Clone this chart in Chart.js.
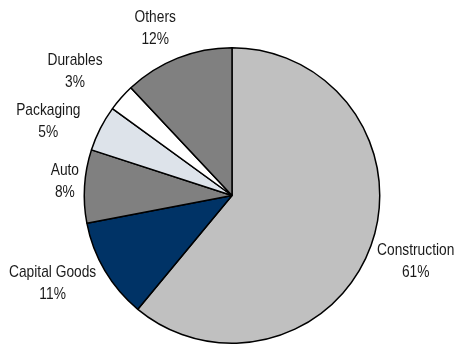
<!DOCTYPE html>
<html>
<head>
<meta charset="utf-8">
<script src="https://cdn.jsdelivr.net/npm/chart.js@4"></script>
<style>
  html, body { margin: 0; padding: 0; background: #fff; }
  #wrap { width: 456px; height: 347px; }
</style>
</head>
<body>
<div id="wrap"><canvas id="pieChart" width="456" height="347"></canvas></div>
<script>
// --- data ---
const sectors = ['Construction', 'Capital Goods', 'Auto', 'Packaging', 'Durables', 'Others'];
const shares = [61, 11, 8, 5, 3, 12];
const sliceColors = ['#c0c0c0', '#003366', '#808080', '#dde3ea', '#ffffff', '#808080'];

// label placement: extra distance past the rim, and a small angle nudge (deg)
const labelGap = [47.5, 52, 20, 50.5, 52.5, 36];
const labelTurn = [0, 4.5, 1.3, -4.9, -3, -3.1];

const LABEL_FONT = '17px "Liberation Sans", Arial, sans-serif';
const NARROW = 0.81; // squeeze to look like Arial Narrow
const LINE_H = 22;

// draws the "name / xx%" labels outside each slice
const outsideLabels = {
    id: 'outsideLabels',
    afterDatasetsDraw(chart) {
        const ctx = chart.ctx;
        const arcs = chart.getDatasetMeta(0).data;
        ctx.save();
        ctx.font = LABEL_FONT;
        ctx.fillStyle = '#1a1a1a';
        ctx.textAlign = 'center';
        ctx.textBaseline = 'middle';
        arcs.forEach((arc, i) => {
            const p = arc.getProps(['x', 'y', 'startAngle', 'endAngle', 'outerRadius'], true);
            const mid = (p.startAngle + p.endAngle) / 2 + labelTurn[i] * Math.PI / 180;
            const dist = p.outerRadius + labelGap[i];
            const cx = p.x + Math.cos(mid) * dist;
            const cy = p.y + Math.sin(mid) * dist;
            ctx.save();
            ctx.translate(cx, cy);
            ctx.scale(NARROW, 1);
            ctx.fillText(sectors[i], 0, -LINE_H / 2);
            ctx.fillText(shares[i] + '%', 0, LINE_H / 2);
            ctx.restore();
        });
        ctx.restore();
    }
};

new Chart(document.getElementById('pieChart'), {
    type: 'pie',
    data: {
        labels: sectors,
        datasets: [{
            data: shares,
            backgroundColor: sliceColors,
            borderColor: '#000',
            borderWidth: 1.5,
            hoverOffset: 0
        }]
    },
    options: {
        responsive: false,
        animation: false,
        events: [],
        layout: { padding: { top: 47, bottom: 3, left: 8, right: 0 } },
        plugins: {
            legend: { display: false },
            tooltip: { enabled: false }
        }
    },
    plugins: [outsideLabels]
});
</script>
</body>
</html>
